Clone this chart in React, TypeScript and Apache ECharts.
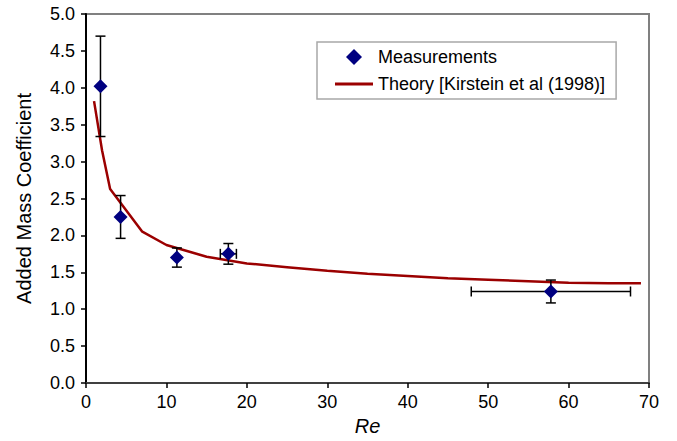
import React, { useEffect, useRef } from "react";
import * as echarts from "echarts";

// Measurements
const measRe = [1.8, 4.3, 11.3, 17.7, 57.8];
const measAMC = [4.02, 2.25, 1.70, 1.75, 1.24];
const measErrY = [0.68, 0.29, 0.13, 0.14, 0.155];
const measErrX = [0, 0, 0, 1.0, 9.9];

// Theory [Kirstein et al (1998)]
const theoryRe = [1, 2, 3, 7, 10, 15, 20, 25, 30, 35, 40, 45, 50, 55, 60, 65, 69];
const theoryAMC = [3.82, 3.15, 2.63, 2.05, 1.87, 1.71, 1.62, 1.57, 1.52, 1.48, 1.45, 1.42, 1.40, 1.38, 1.36, 1.35, 1.35];

const xTicks = { min: 0, max: 70, interval: 10 };
const yTicks = { min: 0, max: 5, interval: 0.5 };

const FONT = "'Liberation Sans', Arial, sans-serif";

export default function App() {
  const ref = useRef<HTMLDivElement>(null);
  useEffect(() => {
    document.body.style.margin = "0";
    if (!ref.current) return;
    const chart = echarts.init(ref.current, null, { renderer: "svg" });
    const errData = measRe.map((x, i) => [x, measAMC[i], measErrX[i], measErrY[i]]);
    chart.setOption({
      animation: false,
      textStyle: { fontFamily: FONT },
      grid: {
        left: 86,
        right: 28,
        top: 14,
        bottom: 56,
        show: true,
        borderColor: "#808080",
        borderWidth: 2,
      },
      legend: {
        left: 317,
        top: 42,
        orient: "vertical",
        padding: [6, 11, 6, 18],
        itemGap: 9,
        itemWidth: 38,
        itemHeight: 16,
        borderColor: "#a8a8a8",
        borderWidth: 1.5,
        textStyle: { fontSize: 18, color: "#000", fontFamily: FONT, padding: [0, 0, 0, 0] },
        data: [
          {
            name: "Measurements",
            icon: "path://M6,0 L12,6 L6,12 L0,6 Z",
            itemStyle: { color: "#000080", opacity: 1 },
          },
          {
            name: "Theory [Kirstein et al (1998)]",
            icon: "path://M0,0 L38,0 L38,3 L0,3 Z",
            itemStyle: { color: "#9B0000" },
          },
        ],
      },
      xAxis: {
        type: "value",
        min: xTicks.min,
        max: xTicks.max,
        interval: xTicks.interval,
        name: "Re",
        nameLocation: "middle",
        nameGap: 33,
        nameTextStyle: { fontSize: 20, fontStyle: "italic", color: "#000", fontFamily: FONT },
        splitLine: { show: false },
        axisLine: { lineStyle: { color: "#404040", width: 2 } },
        axisTick: { inside: false, length: 5, lineStyle: { color: "#000", width: 1.5 } },
        axisLabel: { fontSize: 18, color: "#000", margin: 10, fontFamily: FONT },
      },
      yAxis: {
        type: "value",
        min: yTicks.min,
        max: yTicks.max,
        interval: yTicks.interval,
        name: "Added Mass Coefficient",
        nameLocation: "middle",
        nameGap: 52,
        nameTextStyle: { fontSize: 20, color: "#000", fontFamily: FONT },
        splitLine: { show: false },
        axisLine: { show: true, lineStyle: { color: "#000", width: 2 } },
        axisTick: { show: true, inside: false, length: 5, lineStyle: { color: "#000", width: 1.5 } },
        axisLabel: {
          fontSize: 18,
          color: "#000",
          margin: 11,
          fontFamily: FONT,
          formatter: (v: number) => v.toFixed(1),
        },
      },
      series: [
        {
          name: "Theory [Kirstein et al (1998)]",
          type: "line",
          data: theoryRe.map((x, i) => [x, theoryAMC[i]]),
          showSymbol: false,
          symbol: "none",
          lineStyle: { color: "#9B0000", width: 2.5 },
          itemStyle: { color: "#9B0000" },
          z: 2,
        },
        {
          name: "errorbars",
          type: "custom",
          data: errData,
          z: 3,
          renderItem: (params: any, api: any) => {
            const x = api.value(0);
            const y = api.value(1);
            const ex = api.value(2);
            const ey = api.value(3);
            const style = { stroke: "#000", lineWidth: 1.5 };
            const children: any[] = [];
            const top = api.coord([x, y + ey]);
            const bot = api.coord([x, y - ey]);
            const cap = 5;
            children.push({ type: "line", shape: { x1: top[0], y1: top[1], x2: bot[0], y2: bot[1] }, style });
            children.push({ type: "line", shape: { x1: top[0] - cap, y1: top[1], x2: top[0] + cap, y2: top[1] }, style });
            children.push({ type: "line", shape: { x1: bot[0] - cap, y1: bot[1], x2: bot[0] + cap, y2: bot[1] }, style });
            if (ex > 0) {
              const l = api.coord([x - ex, y]);
              const r = api.coord([x + ex, y]);
              children.push({ type: "line", shape: { x1: l[0], y1: l[1], x2: r[0], y2: r[1] }, style });
              children.push({ type: "line", shape: { x1: l[0], y1: l[1] - cap, x2: l[0], y2: l[1] + cap }, style });
              children.push({ type: "line", shape: { x1: r[0], y1: r[1] - cap, x2: r[0], y2: r[1] + cap }, style });
            }
            return { type: "group", children };
          },
        },
        {
          name: "Measurements",
          type: "scatter",
          data: measRe.map((x, i) => [x, measAMC[i]]),
          symbol: "diamond",
          symbolSize: 14,
          itemStyle: { color: "#000080", opacity: 1 },
          z: 4,
        },
      ],
    });
    return () => chart.dispose();
  }, []);
  return <div ref={ref} style={{ width: 677, height: 441 }} />;
}
